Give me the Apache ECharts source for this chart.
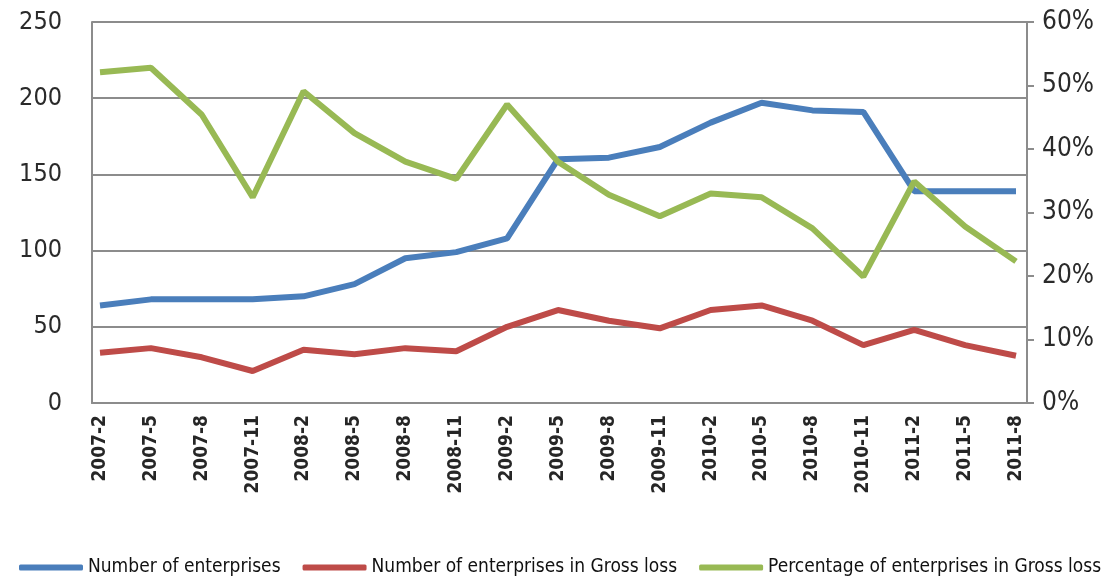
<!DOCTYPE html>
<html>
<head>
<meta charset="utf-8">
<script src="https://cdn.jsdelivr.net/npm/echarts@6/dist/echarts.min.js"></script>
<style>html,body{margin:0;padding:0;background:#fff}#c{width:1120px;height:576px}</style>
</head>
<body>
<div id="c"></div>
<script>
const categories = ['2007-2','2007-5','2007-8','2007-11','2008-2','2008-5','2008-8','2008-11','2009-2','2009-5','2009-8','2009-11','2010-2','2010-5','2010-8','2010-11','2011-2','2011-5','2011-8'];
const enterprises = [64,68,68,68,70,78,95,99,108,160,161,168,184,197,192,191,139,139,139];
const lossEnterprises = [33,36,30,21,35,32,36,34,50,61,54,49,61,64,54,38,48,38,31];
const lossPercent = [52.1,52.8,45.4,32.4,49.1,42.5,38.0,35.3,47.0,38.0,32.8,29.4,33.0,32.4,27.5,19.9,34.9,27.8,22.3];
const leftTicks = {min: 0, max: 250, interval: 50};
const rightTicks = {min: 0, max: 60, interval: 10};

const gridColor = '#8c8c8c';
const condensed = 'DejaVu Sans Condensed';
const labelFont = {color: '#2a2a2a', fontSize: 25, fontFamily: condensed};
const chart = echarts.init(document.getElementById('c'));
chart.setOption({
  animation: false,
  backgroundColor: '#fff',
  grid: [
    {left: 92, right: 93, top: 22, bottom: 173},
    {left: 100, right: 104, top: 22, bottom: 173}
  ],
  xAxis: [
    {gridIndex: 0, type: 'category', data: categories,
     axisLine: {show: true, lineStyle: {color: gridColor, width: 2}},
     axisTick: {show: false}, axisLabel: {show: false}, splitLine: {show: false}},
    {gridIndex: 1, type: 'category', data: categories, boundaryGap: false,
     axisLine: {show: false}, axisTick: {show: false}, splitLine: {show: false},
     axisLabel: {rotate: 90, margin: 12, interval: 0, fontSize: 19, fontWeight: 'bold', color: '#262626', fontFamily: condensed}}
  ],
  yAxis: [
    {gridIndex: 0, type: 'value', position: 'left', min: leftTicks.min, max: leftTicks.max, interval: leftTicks.interval,
     axisLine: {show: true, lineStyle: {color: gridColor, width: 2}}, axisTick: {show: false},
     axisLabel: Object.assign({margin: 30}, labelFont),
     splitLine: {show: true, lineStyle: {color: gridColor, width: 2}}},
    {gridIndex: 0, type: 'value', position: 'right', min: rightTicks.min, max: rightTicks.max, interval: rightTicks.interval,
     axisLine: {show: true, lineStyle: {color: gridColor, width: 2}},
     axisTick: {show: true, length: 7, lineStyle: {color: gridColor, width: 2}},
     axisLabel: Object.assign({margin: 15, formatter: '{value}%'}, labelFont, {fontSize: 26}),
     splitLine: {show: false}},
    {gridIndex: 1, type: 'value', min: leftTicks.min, max: leftTicks.max, show: false, splitLine: {show: false}},
    {gridIndex: 1, type: 'value', min: rightTicks.min, max: rightTicks.max, show: false, splitLine: {show: false}}
  ],
  legend: {
    left: 14, top: 553, itemWidth: 64, itemHeight: 6, itemGap: 22, icon: 'roundRect',
    textStyle: {color: '#111', fontSize: 19, fontFamily: condensed}
  },
  series: [
    {name: 'Number of enterprises', type: 'line', xAxisIndex: 1, yAxisIndex: 2, data: enterprises,
     symbol: 'none', lineStyle: {width: 6, color: '#4a7ebb'}, itemStyle: {color: '#4a7ebb'}, z: 3},
    {name: 'Number of enterprises in Gross loss', type: 'line', xAxisIndex: 1, yAxisIndex: 2, data: lossEnterprises,
     symbol: 'none', lineStyle: {width: 6, color: '#be4b48'}, itemStyle: {color: '#be4b48'}, z: 3},
    {name: 'Percentage of enterprises in Gross loss', type: 'line', xAxisIndex: 1, yAxisIndex: 3, data: lossPercent,
     symbol: 'none', lineStyle: {width: 6, color: '#98b954'}, itemStyle: {color: '#98b954'}, z: 4}
  ]
});
</script>
</body>
</html>
